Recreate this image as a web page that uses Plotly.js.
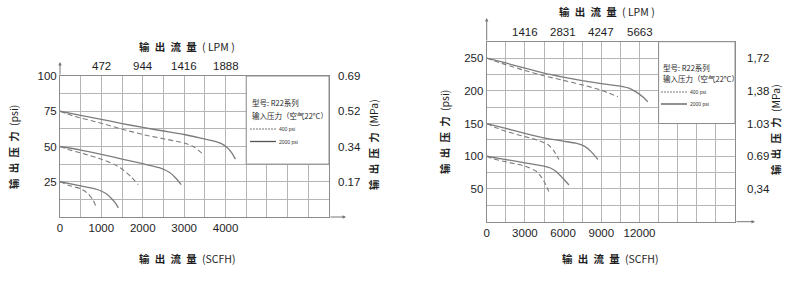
<!DOCTYPE html>
<html>
<head>
<meta charset="utf-8">
<script src="https://cdn.plot.ly/plotly-3.0.1.min.js"></script>
<style>html,body{margin:0;padding:0;background:#fff;}#chart{width:790px;height:289px;}</style>
</head>
<body>
<div id="chart"></div>
<script>
// ---------- DATA ----------
// Left chart: flow (SCFH) vs outlet pressure (psi)
const L_75_2000_x = [0, 500, 1000, 1500, 2000, 2500, 3000, 3400, 3700, 3900, 4050, 4150, 4240];
const L_75_2000_y = [75, 72.1, 69.2, 66.3, 63.5, 61, 58.5, 56, 54, 52, 49, 45.5, 41];
const L_75_400_x  = [0, 300, 1000, 1500, 2000, 2500, 3000, 3250, 3440];
const L_75_400_y  = [75, 71.8, 66.5, 62.3, 58.5, 55.5, 52.5, 49.5, 45];
const L_50_2000_x = [0, 500, 1000, 1500, 2000, 2400, 2650, 2800, 2930];
const L_50_2000_y = [50, 47.5, 44.5, 41, 37.8, 35, 31.5, 27.5, 23];
const L_50_400_x  = [0, 200, 500, 1000, 1300, 1500, 1700, 1890];
const L_50_400_y  = [50, 47.8, 45.5, 41, 37.5, 34, 29, 23];
const L_25_2000_x = [0, 500, 900, 1100, 1250, 1350, 1410];
const L_25_2000_y = [25, 22, 19.5, 16.8, 13, 9.5, 6.5];
const L_25_400_x  = [0, 200, 500, 680, 790, 870];
const L_25_400_y  = [25, 22.5, 20, 16.5, 12.5, 7.5];

// Right chart
const R_250_2000_x = [0, 1500, 3000, 4500, 6000, 7500, 9000, 10500, 11300, 11900, 12300, 12650];
const R_250_2000_y = [250, 242.5, 234.5, 227, 221, 215.5, 211, 207, 203, 196, 190, 183];
const R_250_400_x  = [0, 700, 1500, 3000, 4500, 6000, 7500, 9000, 10300];
const R_250_400_y  = [250, 245, 240, 231, 223, 216, 209, 201, 191];
const R_150_2000_x = [0, 1500, 3000, 4500, 6000, 7000, 7700, 8200, 8730];
const R_150_2000_y = [150, 142.5, 135, 128, 123, 120, 115, 107, 95];
const R_150_400_x  = [0, 800, 1500, 3000, 4000, 4800, 5250, 5680];
const R_150_400_y  = [150, 143, 138, 130, 124.5, 118, 109, 95];
const R_100_2000_x = [0, 1500, 3000, 4500, 5000, 5500, 6000, 6460];
const R_100_2000_y = [100, 95, 90, 85, 82, 76, 66, 56];
const R_100_400_x  = [0, 500, 1500, 3000, 3900, 4300, 4600, 4875];
const R_100_400_y  = [100, 96, 91.5, 85, 77, 68, 58, 46];

// Tick labels
const L_scfhVals = [0, 1000, 2000, 3000, 4000];
const L_lpmLabels = ['472', '944', '1416', '1888'];
const L_lpmVals = [1000, 2000, 3000, 4000];
const L_psiVals = [25, 50, 75, 100];
const L_mpaLabels = ['0.17', '0.34', '0.52', '0.69'];

const R_scfhVals = [0, 3000, 6000, 9000, 12000];
const R_lpmLabels = ['1416', '2831', '4247', '5663'];
const R_lpmVals = [3000, 6000, 9000, 12000];
const R_psiVals = [50, 100, 150, 200, 250];
const R_mpaLabels = ['0,34', '0.69', '1.03', '1,38', '1,72'];

// ---------- BUILD ----------
const W = 790, H = 289;
const px = v => v / W;
const py = v => 1 - v / H;
const curveColor = '#7d7d7d';
const gridColor = '#b5b5b5';
const txtColor = '#1e1e1e';
const numFont = {family: 'Liberation Sans, Arial, sans-serif', size: 11.5, color: txtColor};
const cjk = 'Noto Sans CJK SC, sans-serif';
const sp = '\u2002';
const zh = s => '<b>' + s.split('').join(sp) + '</b>';

function line(x, y, xa, ya, dashed) {
  return {x: x, y: y, xaxis: xa, yaxis: ya, type: 'scatter', mode: 'lines',
    line: {color: curveColor, width: dashed ? 1.1 : 1.3, dash: dashed ? '5px,3px' : 'solid', shape: 'spline', smoothing: 0.5},
    hoverinfo: 'skip'};
}
const traces = [
  line(L_75_2000_x, L_75_2000_y, 'x', 'y', false),
  line(L_75_400_x, L_75_400_y, 'x', 'y', true),
  line(L_50_2000_x, L_50_2000_y, 'x', 'y', false),
  line(L_50_400_x, L_50_400_y, 'x', 'y', true),
  line(L_25_2000_x, L_25_2000_y, 'x', 'y', false),
  line(L_25_400_x, L_25_400_y, 'x', 'y', true),
  line(R_250_2000_x, R_250_2000_y, 'x2', 'y2', false),
  line(R_250_400_x, R_250_400_y, 'x2', 'y2', true),
  line(R_150_2000_x, R_150_2000_y, 'x2', 'y2', false),
  line(R_150_400_x, R_150_400_y, 'x2', 'y2', true),
  line(R_100_2000_x, R_100_2000_y, 'x2', 'y2', false),
  line(R_100_400_x, R_100_400_y, 'x2', 'y2', true)
];

function gridTicks(step, max, labelVals) {
  const vals = [], text = [];
  for (let v = 0; v <= max + 1e-9; v += step) {
    vals.push(v);
    text.push(labelVals.indexOf(v) >= 0 ? String(v) : '');
  }
  return {tickvals: vals, ticktext: text};
}
const axBase = {showgrid: true, gridcolor: gridColor, gridwidth: 1, showline: true, mirror: true,
  linecolor: '#8c8c8c', linewidth: 1, zeroline: false, ticks: '', tickfont: numFont, fixedrange: true, tickmode: 'array'};

const lx = gridTicks(500, 6500, L_scfhVals);
const ly = gridTicks(12.5, 100, L_psiVals);
const rx = gridTicks(1500, 19500, R_scfhVals);
const ry = gridTicks(25, 275, R_psiVals);

const annotations = [];
const shapes = [];
function txt(x, y, text, size, opts) {
  annotations.push(Object.assign({x: x, y: y, xref: 'paper', yref: 'paper', text: text, showarrow: false,
    font: {family: cjk, size: size, color: txtColor}, xanchor: 'center', yanchor: 'middle'}, opts || {}));
}
function arrow(opts) {
  annotations.push(Object.assign({text: '', showarrow: true, arrowhead: 2, arrowsize: 0.7, arrowwidth: 1,
    arrowcolor: '#777', standoff: 0}, opts));
}

const tSize = 10.5;
// Titles
txt(px(187), py(46), zh('输出流量') + '\u2002( LPM )', tSize);
txt(px(187), py(258), zh('输出流量') + '\u2002(SCFH)', tSize);
txt(px(13), py(147), zh('输出压力') + '\u2002(psi)', tSize, {textangle: -90});
txt(px(373), py(145), zh('输出压力') + '\u2002(MPa)', tSize, {textangle: -90});
txt(px(607), py(12), zh('输出流量') + '\u2002( LPM )', tSize);
txt(px(610), py(258), zh('输出流量') + '\u2002(SCFH)', tSize);
txt(px(444), py(132), zh('输出压力') + '\u2002(psi)', tSize, {textangle: -90});
txt(px(775), py(130), zh('输出压力') + '\u2002(MPa)', tSize, {textangle: -90});

// Top LPM labels
L_lpmVals.forEach((v, i) => annotations.push({x: v, xref: 'x', y: py(66), yref: 'paper', text: L_lpmLabels[i],
  showarrow: false, font: numFont, xanchor: 'center', yanchor: 'middle'}));
R_lpmVals.forEach((v, i) => annotations.push({x: v, xref: 'x2', y: py(32), yref: 'paper', text: R_lpmLabels[i],
  showarrow: false, font: numFont, xanchor: 'center', yanchor: 'middle'}));
// Right MPa labels
L_psiVals.forEach((v, i) => annotations.push({x: px(336), xref: 'paper', y: v, yref: 'y', text: L_mpaLabels[i],
  showarrow: false, font: numFont, xanchor: 'left', yanchor: 'middle'}));
R_psiVals.forEach((v, i) => annotations.push({x: px(745), xref: 'paper', y: v, yref: 'y2', text: R_mpaLabels[i],
  showarrow: false, font: numFont, xanchor: 'left', yanchor: 'middle'}));

// Axis arrows
arrow({xref: 'x', yref: 'paper', x: 0, y: py(62), ax: 0, ay: 14});
arrow({xref: 'paper', yref: 'y', x: px(346), y: 0, ax: -17, ay: 0});
arrow({xref: 'x2', yref: 'paper', x: 0, y: py(18), ax: 0, ay: 24});
arrow({xref: 'paper', yref: 'y2', x: px(755), y: 0, ax: -20, ay: 0});

// Legend boxes
function legendBox(xr, yr, x0, x1, y0, y1, lx0, ty) {
  shapes.push({type: 'rect', xref: xr, yref: yr, x0: x0, x1: x1, y0: y0, y1: y1,
    fillcolor: '#ffffff', line: {color: '#8c8c8c', width: 1}, layer: 'above'});
  txt(px(lx0), py(ty[0]), '型号: R22系列', 7.5, {xanchor: 'left'});
  txt(px(lx0), py(ty[1]), '输入压力（空气22°C）', 7.5, {xanchor: 'left'});
  shapes.push({type: 'line', xref: 'paper', yref: 'paper', x0: px(lx0), x1: px(lx0 + 26), y0: py(ty[2]), y1: py(ty[2]),
    line: {color: '#555', width: 0.8, dash: '2px,1px'}, layer: 'above'});
  shapes.push({type: 'line', xref: 'paper', yref: 'paper', x0: px(lx0), x1: px(lx0 + 26), y0: py(ty[3]), y1: py(ty[3]),
    line: {color: '#555', width: 1.3}, layer: 'above'});
  txt(px(lx0 + 27), py(ty[2]), '400 psi', 5, {xanchor: 'left', font: {family: 'Liberation Sans, Arial', size: 5, color: '#333'}});
  txt(px(lx0 + 27), py(ty[3]), '2000 psi', 5, {xanchor: 'left', font: {family: 'Liberation Sans, Arial', size: 5, color: '#333'}});
}
legendBox('x', 'y', 4500, 6500, 37.5, 100, 250, [102, 115.5, 129, 141.5]);
legendBox('x2', 'y2', 13500, 19500, 150, 275, 661, [67, 79, 92, 104]);

const layout = {
  width: W, height: H, margin: {l: 0, r: 0, t: 0, b: 0},
  paper_bgcolor: '#ffffff', plot_bgcolor: '#ffffff', showlegend: false,
  xaxis: Object.assign({}, axBase, {domain: [px(60), px(329)], range: [0, 6500], anchor: 'y',
    tickvals: lx.tickvals, ticktext: lx.ticktext}),
  yaxis: Object.assign({}, axBase, {domain: [py(217), py(76)], range: [0, 100], anchor: 'x',
    tickvals: ly.tickvals, ticktext: ly.ticktext}),
  xaxis2: Object.assign({}, axBase, {domain: [px(486.7), px(735)], range: [0, 19500], anchor: 'y2',
    tickvals: rx.tickvals, ticktext: rx.ticktext}),
  yaxis2: Object.assign({}, axBase, {domain: [py(221.7), py(41.7)], range: [0, 275], anchor: 'x2',
    tickvals: ry.tickvals, ticktext: ry.ticktext}),
  annotations: annotations,
  shapes: shapes
};
Plotly.newPlot('chart', traces, layout, {staticPlot: true, displayModeBar: false});
</script>
</body>
</html>
